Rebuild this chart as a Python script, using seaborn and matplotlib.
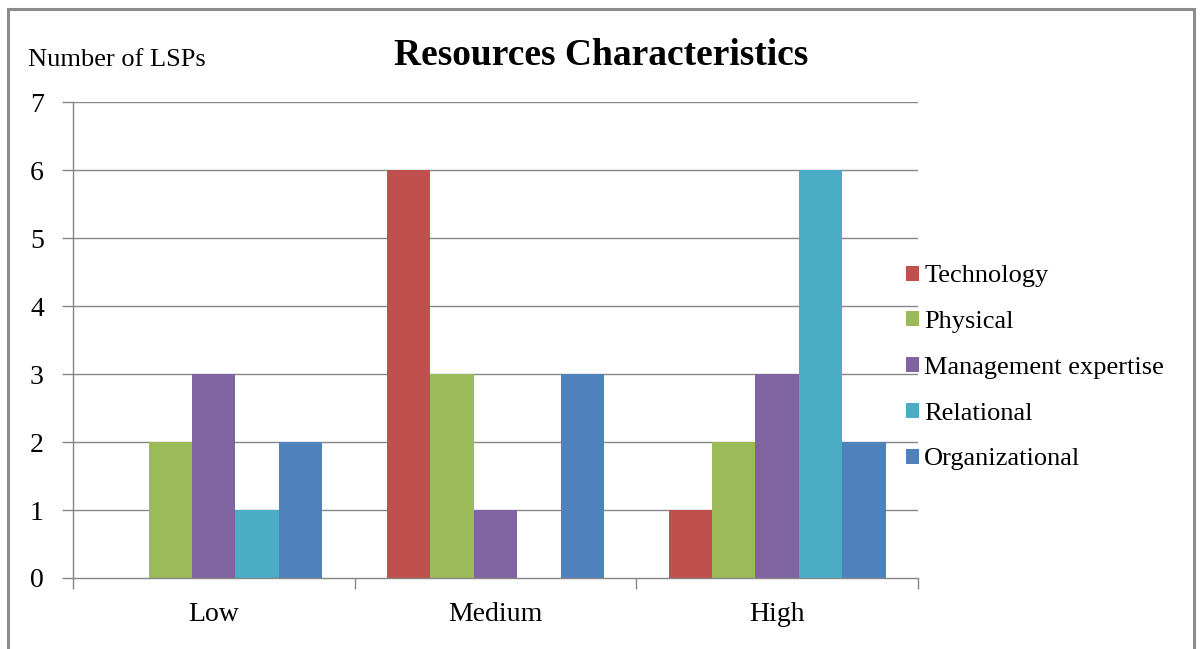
import matplotlib
matplotlib.use("Agg")
import matplotlib.pyplot as plt
import matplotlib.patches as mpatches
import seaborn as sns
import pandas as pd

categories = ["Low", "Medium", "High"]
series = ["Technology", "Physical", "Management expertise", "Relational", "Organizational"]
technology = [0, 6, 1]
physical = [2, 3, 2]
management = [3, 1, 3]
relational = [1, 0, 6]
organizational = [2, 3, 2]
colors = ["#C0504D", "#9BBB59", "#8064A2", "#4BACC6", "#4F81BD"]

values = [technology, physical, management, relational, organizational]
df = pd.DataFrame(
    [(cat, s, v[i]) for s, v in zip(series, values) for i, cat in enumerate(categories)],
    columns=["Level", "Resource", "Count"],
)

sns.set_theme(style="white")
plt.rcParams["font.family"] = ["Liberation Serif", "DejaVu Serif"]
plt.rcParams["text.color"] = "black"
plt.rcParams["xtick.labelcolor"] = "black"
plt.rcParams["ytick.labelcolor"] = "black"

fig = plt.figure(figsize=(12, 6.49), dpi=100)
ax = fig.add_axes([0.0608, 0.1094, 0.7042, 0.7334])

grid_color = "#868686"
ax.set_axisbelow(True)
for y in range(1, 8):
    ax.axhline(y, color=grid_color, lw=1.0, zorder=0)

sns.barplot(
    data=df, x="Level", y="Count", hue="Resource",
    order=categories, hue_order=series, palette=colors,
    width=0.77, gap=0, saturation=1, edgecolor="none", linewidth=0,
    ax=ax, legend=False, zorder=2,
)

ax.set_xlim(-0.5, 2.5)
ax.set_ylim(0, 7)
ax.set_yticks(range(0, 8))
ax.set_xticks([-0.5, 0.5, 1.5, 2.5])
ax.set_xticklabels([])
ax.set_xticks(range(3), minor=True)
ax.set_xticklabels(categories, minor=True)
ax.tick_params(axis="x", which="major", direction="out", length=8, width=1,
               color=grid_color, bottom=True)
ax.tick_params(axis="x", which="minor", length=0, pad=17, labelsize=20,
               labelcolor="black")
ax.tick_params(axis="y", direction="out", length=8, width=1, color=grid_color,
               left=True, pad=13, labelsize=20, labelcolor="black")
ax.set_xlabel("")
ax.set_ylabel("")
for side in ["top", "right"]:
    ax.spines[side].set_visible(False)
for side in ["left", "bottom"]:
    ax.spines[side].set_color(grid_color)
    ax.spines[side].set_linewidth(1.0)

fig.text(0.5008, 0.915, "Resources Characteristics", ha="center", va="center",
         fontsize=27, fontweight="bold", color="black")
fig.text(0.0233, 0.908, "Number of LSPs", ha="left", va="center",
         fontsize=19, color="black")

handles = [mpatches.Patch(facecolor=c, edgecolor="none", label=s) for s, c in zip(series, colors)]
fig.legend(handles=handles, loc="center left", bbox_to_anchor=(0.746, 0.433),
           frameon=False, fontsize=19, handlelength=0.5, handleheight=0.5,
           handletextpad=0.2, labelspacing=0.9, borderaxespad=0, labelcolor="black")

border = mpatches.Rectangle((0.007, -0.05), 0.988, 1.036, transform=fig.transFigure,
                            fill=False, edgecolor="#8c8c8c", lw=2.2, clip_on=False)
fig.patches.append(border)

fig.savefig("out.png", dpi=100, facecolor="white")
